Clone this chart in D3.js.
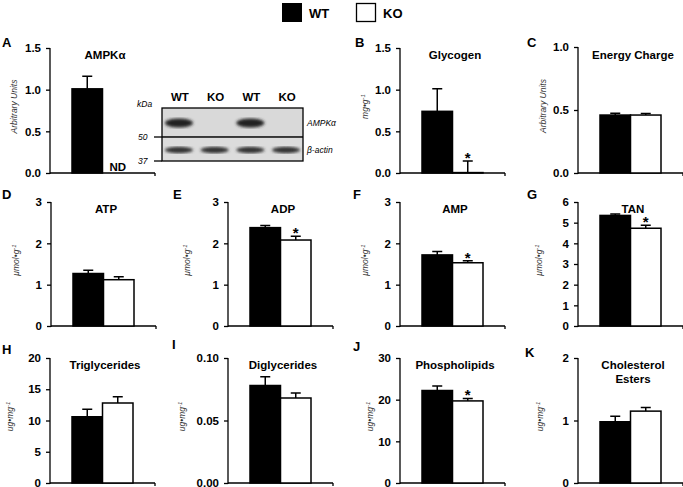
<!DOCTYPE html>
<html>
<head>
<meta charset="utf-8">
<script src="https://cdn.jsdelivr.net/npm/d3@7"></script>
<style>
  body { margin: 0; background: #fff; }
  svg { display: block; font-family: Arial, "Liberation Sans", sans-serif; }
</style>
</head>
<body>
<div id="chart"></div>
<script>
// values
var letters = ['A','B','C','D','E','F','G','H','I','J','K'];
var titles  = ['AMPKα','Glycogen','Energy Charge','ATP','ADP','AMP','TAN','Triglycerides','Diglycerides','Phospholipids','Cholesterol|Esters'];
var units   = ['Arbitrary Units','mg•g','Arbitrary Units','μmol•g','μmol•g','μmol•g','μmol•g','ug•mg','ug•mg','ug•mg','ug•mg'];
var groups  = ['WT','KO'];
var wtMean  = [1.01, 0.74, 0.46, 1.27, 2.38, 1.72, 5.35, 10.6, 0.078, 22.2, 0.98];
var wtErr   = [0.15, 0.27, 0.015, 0.08, 0.05, 0.08, 0.07, 1.2, 0.007, 1.1, 0.09];
var koMean  = [null, 0.005, 0.46, 1.12, 2.08, 1.53, 4.73, 12.8, 0.068, 19.7, 1.15];
var koErr   = [null, 0.14, 0.012, 0.07, 0.09, 0.05, 0.15, 1.0, 0.004, 0.6, 0.06];
var yMax    = [1.5, 1.5, 1.0, 3, 3, 3, 6, 20, 0.10, 30, 2];
var yTicks  = [[0,0.5,1,1.5],[0,0.5,1,1.5],[0,0.5,1],[0,1,2,3],[0,1,2,3],[0,1,2,3],[0,1,2,3,4,5,6],
               [0,5,10,15,20],[0,0.05,0.1],[0,10,20,30],[0,1,2]];
var tickFmt = ['.1f','.1f','.1f','d','d','d','d','d','.2f','d','d'];
var signif  = [false, true, false, false, true, true, true, false, false, true, false];
var blotLanes = ['WT','KO','WT','KO'];

// layout
var W = 683, H = 487;
var colX = [50, 228, 400, 578];
var rowY = [[48, 173], [202, 326], [358, 483]];
var pos = [[0,0],[0,2],[0,3],[1,0],[1,1],[1,2],[1,3],[2,0],[2,1],[2,2],[2,3]];
var labOff = [33, 32, 32, 32, 38, 32, 36, 37, 43, 27, 35];

var svg = d3.select('#chart').append('svg')
    .attr('width', W).attr('height', H);

// legend
var leg = svg.append('g');
leg.append('rect').attr('x', 282).attr('y', 3).attr('width', 20).attr('height', 19).attr('fill', '#000');
leg.append('text').attr('x', 309).attr('y', 18).text('WT').style('font-weight', 'bold').style('font-size', '13px');
leg.append('rect').attr('x', 356.5).attr('y', 3.5).attr('width', 19).attr('height', 18)
    .attr('fill', '#fff').attr('stroke', '#000').attr('stroke-width', 1.3);
leg.append('text').attr('x', 383).attr('y', 18).text('KO').style('font-weight', 'bold').style('font-size', '13px');

var letterPos = [[2,47],[355,47],[527,47],[2,199],[173,199],[353,199],[527,199],[2,354],[172,349],[353,351],[525,357]];

letters.forEach(function(L, i) {
    var r = pos[i][0], c = pos[i][1];
    var x0 = colX[c] + (i === 3 ? 1 : 0);
    var top = (i === 2) ? 47 : rowY[r][0], bot = rowY[r][1];
    var g = svg.append('g');

    var y = d3.scaleLinear().domain([0, yMax[i]]).range([bot, top]);
    var x = d3.scaleBand().domain(groups).range([x0 + 22, x0 + 83]).padding(0);

    // panel letter
    svg.append('text').attr('x', letterPos[i][0]).attr('y', letterPos[i][1])
        .text(L).style('font-weight', 'bold').style('font-size', '13px');

    // axes
    var yAxis = d3.axisLeft(y).tickValues(yTicks[i]).tickFormat(d3.format(tickFmt[i])).tickSize(4).tickPadding(5);
    var ya = g.append('g').attr('transform', 'translate(' + x0 + ',0)').call(yAxis);
    ya.select('.domain').attr('d', 'M0,' + top + 'V' + (bot + 1));
    ya.selectAll('path, line').attr('stroke', '#000').attr('stroke-width', 1.3);
    ya.selectAll('text').style('font-weight', 'bold').style('font-size', '11.5px').attr('fill', '#000');

    g.append('line').attr('x1', x0).attr('x2', x0 + 105).attr('y1', bot).attr('y2', bot)
        .attr('stroke', '#000').attr('stroke-width', 1.3);
    g.append('line').attr('x1', x0 + 105).attr('x2', x0 + 105).attr('y1', bot).attr('y2', bot + 3)
        .attr('stroke', '#000').attr('stroke-width', 1.3);

    // y label
    var lx = x0 - labOff[i], ly = (top + bot) / 2 - 4;
    var t = g.append('text').attr('transform', 'translate(' + lx + ',' + ly + ') rotate(-90)')
        .attr('text-anchor', 'middle').style('font-style', 'italic').style('font-size', '8.5px').attr('fill', '#333');
    t.append('tspan').text(units[i]);
    if (units[i] !== 'Arbitrary Units') {
        t.append('tspan').text('-1').attr('dy', -3).style('font-size', '6px');
    }

    // title
    var tl = titles[i].split('|');
    tl.forEach(function(s, k) {
        g.append('text').attr('x', x0 + 55).attr('y', top + 11 + (i === 2 ? 1 : 0) + k * 14)
            .attr('text-anchor', 'middle').style('font-weight', 'bold').style('font-size', '11.5px').text(s);
    });

    // bars
    var vals = [{g: 'WT', m: wtMean[i], e: wtErr[i]}, {g: 'KO', m: koMean[i], e: koErr[i]}]
        .filter(function(d) { return d.m !== null; });

    g.selectAll('.err').data(vals).enter().append('path')
        .attr('d', function(d) {
            var cx = x(d.g) + x.bandwidth() / 2;
            return 'M' + cx + ',' + y(d.m) + 'V' + y(d.m + d.e) + 'M' + (cx - 5) + ',' + y(d.m + d.e) + 'H' + (cx + 5);
        })
        .attr('stroke', '#000').attr('stroke-width', 1.5).attr('fill', 'none');

    g.selectAll('.bar').data(vals).enter().append('rect')
        .attr('x', function(d) { return x(d.g); })
        .attr('y', function(d) { return y(d.m); })
        .attr('width', x.bandwidth())
        .attr('height', function(d) { return bot - y(d.m); })
        .attr('fill', function(d) { return d.g === 'WT' ? '#000' : '#fff'; })
        .attr('stroke', '#000').attr('stroke-width', 1.5);

    if (signif[i]) {
        g.append('text').attr('x', x('KO') + x.bandwidth() / 2).attr('y', y(koMean[i] + koErr[i]) + 2)
            .attr('text-anchor', 'middle').style('font-weight', 'bold').style('font-size', '15px').text('*');
    }

    if (i === 0) {
        g.append('text').attr('x', x('KO') + 7).attr('y', bot - 2)
            .style('font-weight', 'bold').style('font-size', '11.5px').text('ND');
    }
});

// western blot inset (panel A)
var defs = svg.append('defs');
defs.append('filter').attr('id', 'blur').append('feGaussianBlur').attr('stdDeviation', 1.6);

var blot = svg.append('g');
var bx = d3.scaleBand().domain(d3.range(blotLanes.length)).range([162, 303]).paddingInner(0.15).paddingOuter(0.05);
blot.append('rect').attr('x', 162).attr('y', 108).attr('width', 141).attr('height', 29).attr('fill', '#d9d9d9');
blot.append('rect').attr('x', 162).attr('y', 138).attr('width', 141).attr('height', 23).attr('fill', '#dcdcdc');
blot.selectAll('.top').data(blotLanes).enter().filter(function(d) { return d === 'WT'; }).append('ellipse')
    .attr('cx', function(d, k) { return bx(k * 2) + bx.bandwidth() / 2; })
    .attr('cy', 123).attr('rx', 14).attr('ry', 4.5).attr('fill', '#222').attr('filter', 'url(#blur)');
blot.selectAll('.bot').data(blotLanes).enter().append('ellipse')
    .attr('cx', function(d, k) { return bx(k) + bx.bandwidth() / 2; })
    .attr('cy', 150).attr('rx', 14).attr('ry', 3.2).attr('fill', '#333').attr('filter', 'url(#blur)');
blot.append('rect').attr('x', 162).attr('y', 108).attr('width', 141).attr('height', 53)
    .attr('fill', 'none').attr('stroke', '#000').attr('stroke-width', 1.3);
blot.append('line').attr('x1', 162).attr('x2', 303).attr('y1', 137).attr('y2', 137).attr('stroke', '#000').attr('stroke-width', 1.5);
blot.selectAll('.lane').data(blotLanes).enter().append('text')
    .attr('x', function(d, k) { return bx(k) + bx.bandwidth() / 2 + 1; })
    .attr('y', 101).attr('text-anchor', 'middle').style('font-weight', 'bold').style('font-size', '11.5px').text(function(d) { return d; });
blot.append('text').attr('x', 137).attr('y', 107).style('font-style', 'italic').style('font-size', '8.5px').text('kDa');
[[50, 137], [37, 161]].forEach(function(m) {
    blot.append('text').attr('x', 138).attr('y', m[1] + 3).style('font-style', 'italic').style('font-size', '8.5px').text(m[0]);
    blot.append('line').attr('x1', 154).attr('x2', 162).attr('y1', m[1]).attr('y2', m[1]).attr('stroke', '#000').attr('stroke-width', 1.3);
});
blot.append('text').attr('x', 307).attr('y', 126).style('font-style', 'italic').style('font-size', '8.5px').text('AMPKα');
blot.append('text').attr('x', 307).attr('y', 153).style('font-style', 'italic').style('font-size', '8.5px').text('β-actin');
</script>
</body>
</html>
